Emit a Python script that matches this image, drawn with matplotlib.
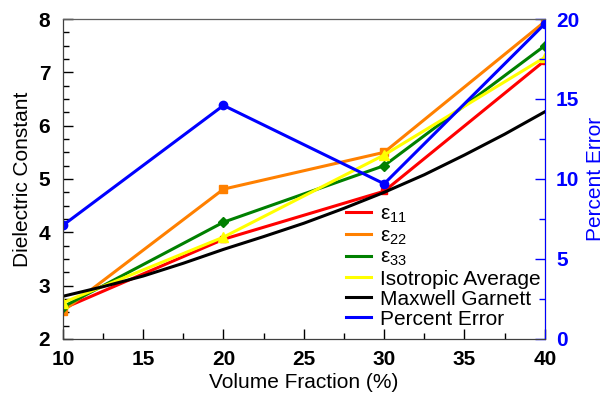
import matplotlib
matplotlib.use("Agg")
import matplotlib.pyplot as plt
from matplotlib.lines import Line2D
from matplotlib.ticker import MultipleLocator

plt.rcParams["font.family"] = ["Liberation Sans", "DejaVu Sans"]
plt.rcParams["mathtext.fontset"] = "custom"
plt.rcParams["mathtext.rm"] = "Liberation Sans"

# --- data ---
vol_frac = [10, 20, 30, 40]
eps_11 = [2.57, 3.87, 4.77, 7.22]
eps_22 = [2.52, 4.81, 5.50, 7.95]
eps_33 = [2.60, 4.19, 5.25, 7.50]
iso_avg = [2.68, 3.91, 5.45, 7.28]

mg_frac = [10, 12.5, 15, 17.5, 20, 22.5, 25, 27.5, 30, 32.5, 35, 37.5, 40]
maxwell_garnett = [2.80, 2.98, 3.18, 3.42, 3.68, 3.92, 4.17, 4.45, 4.75, 5.08, 5.45, 5.84, 6.26]

pct_error = [7.1, 14.6, 9.7, 19.7]

# --- plot ---
fig = plt.figure(figsize=(6.04, 3.96), dpi=100)
ax = fig.add_axes([0.104, 0.144, 0.798, 0.808])
ax2 = ax.twinx()

lw = 2.2
ax.plot(vol_frac, eps_11, color="red", lw=lw, marker="s", ms=4)
ax.plot(vol_frac, eps_22, color="#ff8000", lw=lw, marker="s", ms=6)
ax.plot(vol_frac, eps_33, color="#008000", lw=lw, marker="D", ms=5)
ax.plot(vol_frac, iso_avg, color="#ffff00", lw=lw, marker="^", ms=7)
ax.plot(mg_frac, maxwell_garnett, color="black", lw=lw)
ax2.plot(vol_frac, pct_error, color="blue", lw=lw, marker="o", ms=6)

ax.set_xlim(10, 40)
ax.set_ylim(2, 8)
ax2.set_ylim(0, 20)

ax.xaxis.set_major_locator(MultipleLocator(5))
ax.xaxis.set_minor_locator(MultipleLocator(2.5))
ax.yaxis.set_major_locator(MultipleLocator(1))
ax.yaxis.set_minor_locator(MultipleLocator(0.25))
ax2.yaxis.set_major_locator(MultipleLocator(5))
ax2.yaxis.set_minor_locator(MultipleLocator(2.5))

ax.tick_params(which="both", direction="in", labelsize=15, top=False, right=False)
ax.tick_params(axis="x", pad=8)
ax.tick_params(axis="y", pad=9)
ax.tick_params(which="major", length=7, width=1)
ax.tick_params(which="minor", length=4, width=1)
ax2.tick_params(which="both", direction="in", colors="blue", labelsize=15, pad=8)
ax2.tick_params(which="major", length=7, width=1)
ax2.tick_params(which="minor", length=4, width=1)
for lbl in ax.get_xticklabels() + ax.get_yticklabels() + ax2.get_yticklabels():
    lbl.set_fontweight("bold")

ax.set_xlabel("Volume Fraction (%)", fontsize=15, labelpad=3)
ax.set_ylabel("Dielectric Constant", fontsize=15, labelpad=5)
ax2.set_ylabel("Percent Error", fontsize=15, color="blue", labelpad=5)

for side in ["left", "bottom"]:
    ax2.spines[side].set_color("#404040")
ax2.spines["top"].set_color("#606060")
ax2.spines["right"].set_color("blue")

# legend shows plain line samples
handles = [
    Line2D([], [], color="red", lw=lw),
    Line2D([], [], color="#ff8000", lw=lw),
    Line2D([], [], color="#008000", lw=lw),
    Line2D([], [], color="#ffff00", lw=lw),
    Line2D([], [], color="black", lw=lw),
    Line2D([], [], color="blue", lw=lw),
]
labels = [r"ε$_{\mathregular{11}}$", r"ε$_{\mathregular{22}}$", r"ε$_{\mathregular{33}}$",
          "Isotropic Average", "Maxwell Garnett", "Percent Error"]
ax2.legend(handles, labels, loc="upper left", bbox_to_anchor=(0.588, 0.42),
           frameon=False, fontsize=15, handlelength=1.2, handletextpad=0.4,
           labelspacing=0.05, borderpad=0, borderaxespad=0)

fig.savefig("out.png", dpi=100)
